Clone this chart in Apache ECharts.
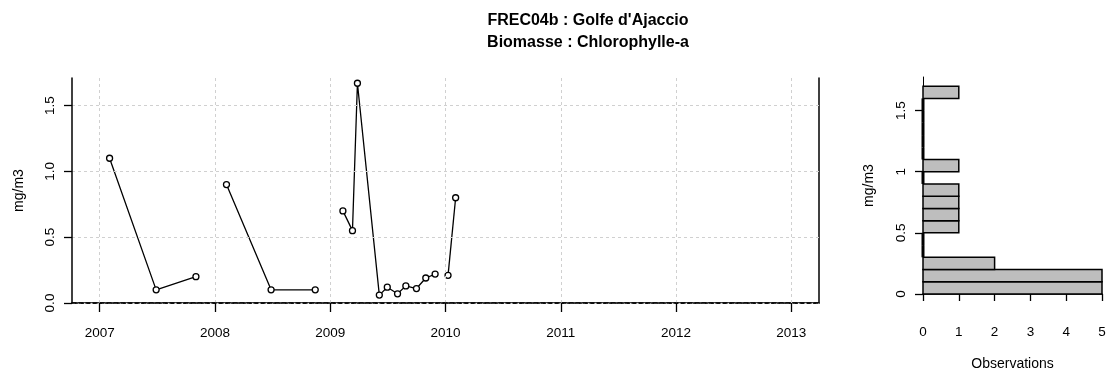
<!DOCTYPE html>
<html>
<head>
<meta charset="utf-8">
<script src="https://cdn.jsdelivr.net/npm/echarts@6/dist/echarts.min.js"></script>
<style>
  html, body { margin: 0; padding: 0; background: #fff; }
  #chart { width: 1109px; height: 371px; }
</style>
</head>
<body>
<div id="chart"></div>
<script>
// sampling dates (decimal years), split by year so the line breaks between years
const dates2007 = [2007.086, 2007.49, 2007.835];
const chl2007 = [1.1, 0.1, 0.2];
const dates2008 = [2008.10, 2008.487, 2008.87];
const chl2008 = [0.9, 0.1, 0.1];
const dates2009 = [2009.11, 2009.193, 2009.236, 2009.426, 2009.495, 2009.584, 2009.656, 2009.748, 2009.829, 2009.91];
const chl2009 = [0.7, 0.55, 1.67, 0.06, 0.12, 0.07, 0.13, 0.11, 0.19, 0.22];
const dates2010 = [2010.022, 2010.088];
const chl2010 = [0.21, 0.8];

const yearTicks = [2007, 2008, 2009, 2010, 2011, 2012, 2013];
const valueTicks = [0, 0.5, 1, 1.5];

// histogram of the values, bins of 0.1
const binLow = [0, 0.1, 0.2, 0.3, 0.4, 0.5, 0.6, 0.7, 0.8, 0.9, 1.0, 1.1, 1.2, 1.3, 1.4, 1.5, 1.6];
const binCount = [5, 5, 2, 0, 0, 1, 1, 1, 1, 0, 1, 0, 0, 0, 0, 0, 1];

const FONT = 'Liberation Sans';

const chart = echarts.init(document.getElementById('chart'));

function yearSeries(dates, vals) {
  return {
    type: 'line',
    xAxisIndex: 0,
    yAxisIndex: 0,
    data: dates.map((d, i) => [d, vals[i]]),
    symbol: 'circle',
    symbolSize: 6,
    lineStyle: { color: '#000', width: 1.3 },
    itemStyle: { color: '#fff', borderColor: '#000', borderWidth: 1.3 },
    z: 3
  };
}

const plainAxis = {
  axisLine: { show: true, lineStyle: { color: '#000', width: 1.5 } },
  axisTick: { show: false },
  axisLabel: { show: false },
  splitLine: { show: false }
};

const option = {
  animation: false,
  title: {
    text: "FREC04b : Golfe d'Ajaccio\nBiomasse : Chlorophylle-a",
    left: 583,
    top: 5,
    textAlign: 'center',
    textStyle: { fontFamily: FONT, fontSize: 16, fontWeight: 'bold', color: '#000', lineHeight: 22 }
  },
  grid: [
    { left: 72, right: 290, top: 78, bottom: 68, outerBoundsMode: 'none' },
    { left: 923, right: 7, top: 77, bottom: 77, outerBoundsMode: 'none' }
  ],
  xAxis: [
    {
      type: 'value', gridIndex: 0, min: 2006.76, max: 2013.24,
      axisLine: { show: true, lineStyle: { color: '#000', width: 1.5, type: [4, 3] } },
      axisTick: { show: true, length: 9, customValues: yearTicks, lineStyle: { color: '#000', width: 1.3 } },
      axisLabel: {
        customValues: yearTicks, margin: 23, formatter: v => String(v),
        fontFamily: FONT, fontSize: 13.5, color: '#000'
      },
      splitLine: { show: true, lineStyle: { color: '#d0d0d0', type: [3, 3], width: 1 } },
      z: 5
    },
    Object.assign({ type: 'value', gridIndex: 0, position: 'top', min: 2006.76, max: 2013.24 }, plainAxis),
    {
      type: 'value', gridIndex: 1, min: 0, max: 5, interval: 1, offset: 9,
      axisLine: { show: true, lineStyle: { color: '#000', width: 1.5 } },
      axisTick: { show: true, length: 7, lineStyle: { color: '#000', width: 1.3 } },
      axisLabel: { margin: 22, fontFamily: FONT, fontSize: 13.5, color: '#000' },
      splitLine: { show: false },
      name: 'Observations', nameLocation: 'middle', nameGap: 54,
      nameTextStyle: { fontFamily: FONT, fontSize: 14, color: '#000' }
    }
  ],
  yAxis: [
    {
      type: 'value', gridIndex: 0, min: 0, max: 1.71,
      axisLine: { show: true, lineStyle: { color: '#000', width: 1.5 } },
      axisTick: { show: true, length: 8, customValues: valueTicks, lineStyle: { color: '#000', width: 1.3 } },
      axisLabel: {
        customValues: valueTicks, rotate: 90, margin: 15,
        formatter: v => v.toFixed(1),
        fontFamily: FONT, fontSize: 13.5, color: '#000'
      },
      splitLine: { show: true, lineStyle: { color: '#d0d0d0', type: [3, 3], width: 1 } },
      name: 'mg/m3', nameLocation: 'middle', nameRotate: 90, nameGap: 46,
      nameTextStyle: { fontFamily: FONT, fontSize: 14, color: '#000' },
      z: 5
    },
    Object.assign({ type: 'value', gridIndex: 0, position: 'right', min: 0, max: 1.71 }, plainAxis),
    {
      type: 'value', gridIndex: 1, min: 0, max: 1.775,
      axisLine: { show: true, lineStyle: { color: '#000', width: 1 } },
      axisTick: { show: true, length: 8, customValues: valueTicks, lineStyle: { color: '#000', width: 1.3 } },
      axisLabel: {
        customValues: valueTicks, rotate: 90, margin: 15,
        fontFamily: FONT, fontSize: 13.5, color: '#000'
      },
      splitLine: { show: false },
      name: 'mg/m3', nameLocation: 'middle', nameRotate: 90, nameGap: 47,
      nameTextStyle: { fontFamily: FONT, fontSize: 14, color: '#000' }
    }
  ],
  series: [
    yearSeries(dates2007, chl2007),
    yearSeries(dates2008, chl2008),
    yearSeries(dates2009, chl2009),
    yearSeries(dates2010, chl2010),
    {
      type: 'custom',
      xAxisIndex: 2,
      yAxisIndex: 2,
      data: binLow.map((lo, i) => [lo, +(lo + 0.1).toFixed(1), binCount[i]]),
      encode: { x: 2, y: [0, 1] },
      renderItem: (params, api) => {
        const lo = api.value(0), hi = api.value(1), n = api.value(2);
        const p0 = api.coord([0, hi]);
        const p1 = api.coord([n, lo]);
        if (n === 0) {
          // empty bin: R draws a zero-width bar, which shows as a thick edge
          return {
            type: 'line',
            shape: { x1: p0[0], y1: p0[1], x2: p0[0], y2: p1[1] },
            style: { stroke: '#000', lineWidth: 3 }
          };
        }
        return {
          type: 'rect',
          shape: { x: p0[0], y: p0[1], width: p1[0] - p0[0], height: p1[1] - p0[1] },
          style: { fill: '#bebebe', stroke: '#000', lineWidth: 1.5 }
        };
      }
    }
  ]
};

chart.setOption(option);
</script>
</body>
</html>
